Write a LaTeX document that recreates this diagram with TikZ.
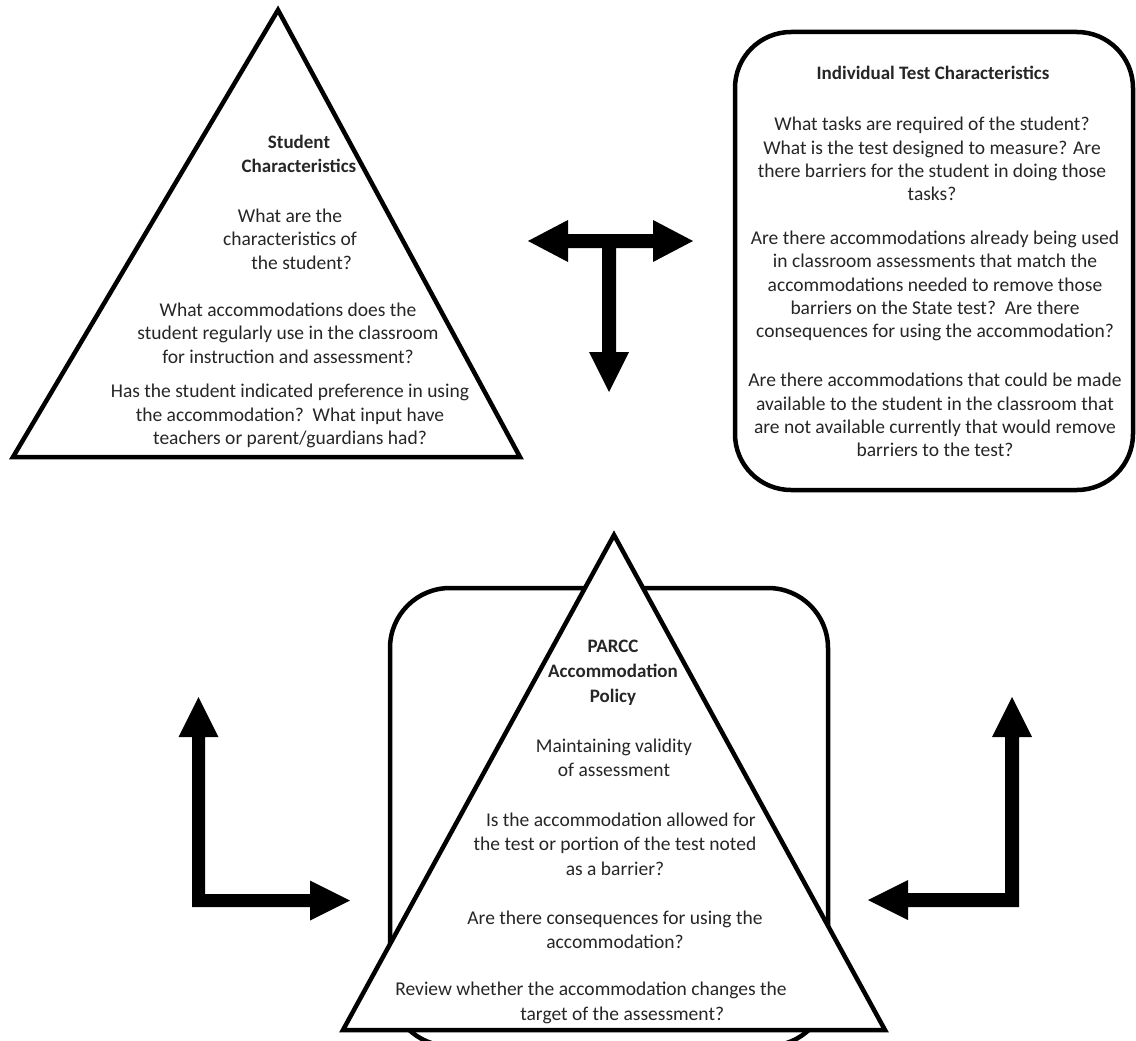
\documentclass[tikz,border=0pt]{standalone}
\usepackage{fontspec}
\setmainfont{Carlito}
\begin{document}
\begin{tikzpicture}[x=1pt,y=-1pt,
  shapeline/.style={line width=4.5pt, line join=miter, draw=black},
  txt/.style={align=center, font=\fontsize{19.5}{23.3}\selectfont, text=black!85, inner sep=0pt},
  txtb/.style={align=center, font=\fontsize{19.5}{24.5}\selectfont, text=black!85, inner sep=0pt},
  ttl/.style={align=center, font=\fontsize{19}{24}\selectfont\bfseries, text=black!85, inner sep=0pt},
  arrowfill/.style={fill=black, draw=none}]
\useasboundingbox (0,0) rectangle (1136,1041);
\fill[white] (0,0) rectangle (1136,1041);

% ---------- top-left triangle: Student Characteristics ----------
\coordinate (stApex) at (278,10);
\coordinate (stLeft) at (13,457);
\coordinate (stRight) at (520,457);
\draw[shapeline] (stApex) -- (stLeft) -- (stRight) -- cycle;
\node[ttl] (stTitle) at (299,154) {Student\\Characteristics};
\node[txt] (stP1) at (290,239) {What are the\\characteristics of\\\hspace*{1.2em}the student?};
\node[txt] (stP2) at (288,333) {What accommodations does the\\student regularly use in the classroom\\for instruction and assessment?};
\node[txt] (stP3) at (290,416) {Has the student indicated preference in using\\the accommodation?\ \ What input have\\teachers or parent/guardians had?};

% ---------- top-right rounded box: Individual Test Characteristics ----------
\node[shapeline, rounded corners=56pt, minimum width=398pt, minimum height=458pt, inner sep=0pt] (itc) at (934,261) {};
\node[ttl] (itcTitle) at (933,73) {Individual Test Characteristics};
\node[txt] (itcP1) at (932,159) {What tasks are required of the student?\\What is the test designed to measure? Are\\there barriers for the student in doing those\\tasks?};
\node[txt] (itcP2) at (935,286) {Are there accommodations already being used\\in classroom assessments that match the\\accommodations needed to remove those\\barriers on the State test?\ \ Are there\\consequences for using the accommodation?};
\node[txt] (itcP3) at (935,415) {Are there accommodations that could be made\\available to the student in the classroom that\\are not available currently that would remove\\barriers to the test?};

% ---------- T arrow (left, right, down) ----------
\coordinate (tL) at (528,241);
\coordinate (tR) at (693,241);
\coordinate (tD) at (609,392);
\fill[arrowfill] (tL) -- (568,220) -- (568,234) -- (653,234) -- (653,220) -- (tR)
  -- (653,262) -- (653,248) -- (616,248) -- (616,352) -- (629,352) -- (tD)
  -- (589,352) -- (602,352) -- (602,248) -- (568,248) -- (568,262) -- cycle;

% ---------- bottom rounded box (behind) ----------
\node[shapeline, rounded corners=60pt, minimum width=438pt, minimum height=458pt, inner sep=0pt] (pbox) at (609,817) {};

% ---------- bottom triangle: PARCC Accommodation Policy ----------
\coordinate (pApex) at (614,535);
\coordinate (pLeft) at (343,1030);
\coordinate (pRight) at (885,1030);
\filldraw[shapeline, fill=white] (pApex) -- (pLeft) -- (pRight) -- cycle;
\node[ttl, font=\fontsize{19}{25}\selectfont\bfseries] (pTitle) at (613,673) {PARCC\\Accommodation\\Policy};
\node[txtb] (pP1) at (614,758) {Maintaining validity\\of assessment};
\node[txtb] (pP2) at (615,844) {\hspace*{0.6em}Is the accommodation allowed for\\the test or portion of the test noted\\as a barrier?};
\node[txtb] (pP3) at (615,930) {Are there consequences for using the\\accommodation?};
\node[txtb] (pP4) at (591,1003) {Review whether the accommodation changes the\\\hspace*{3.2em}target of the assessment?};

% ---------- bottom-left L arrow (up, right) ----------
\coordinate (lUp) at (198.5,697);
\coordinate (lRight) at (350,900.5);
\fill[arrowfill] (lUp) -- (218.5,737) -- (205,737) -- (205,894) -- (310,894) -- (310,880.5)
  -- (lRight) -- (310,920.5) -- (310,907) -- (192,907) -- (192,737) -- (178.5,737) -- cycle;

% ---------- bottom-right L arrow (up, left) ----------
\coordinate (rUp) at (1012,697);
\coordinate (rLeft) at (868,900);
\fill[arrowfill] (rUp) -- (1032,737) -- (1019,737) -- (1019,907) -- (908,907) -- (908,920)
  -- (rLeft) -- (908,880) -- (908,893) -- (1005,893) -- (1005,737) -- (992,737) -- cycle;
\end{tikzpicture}
\end{document}
